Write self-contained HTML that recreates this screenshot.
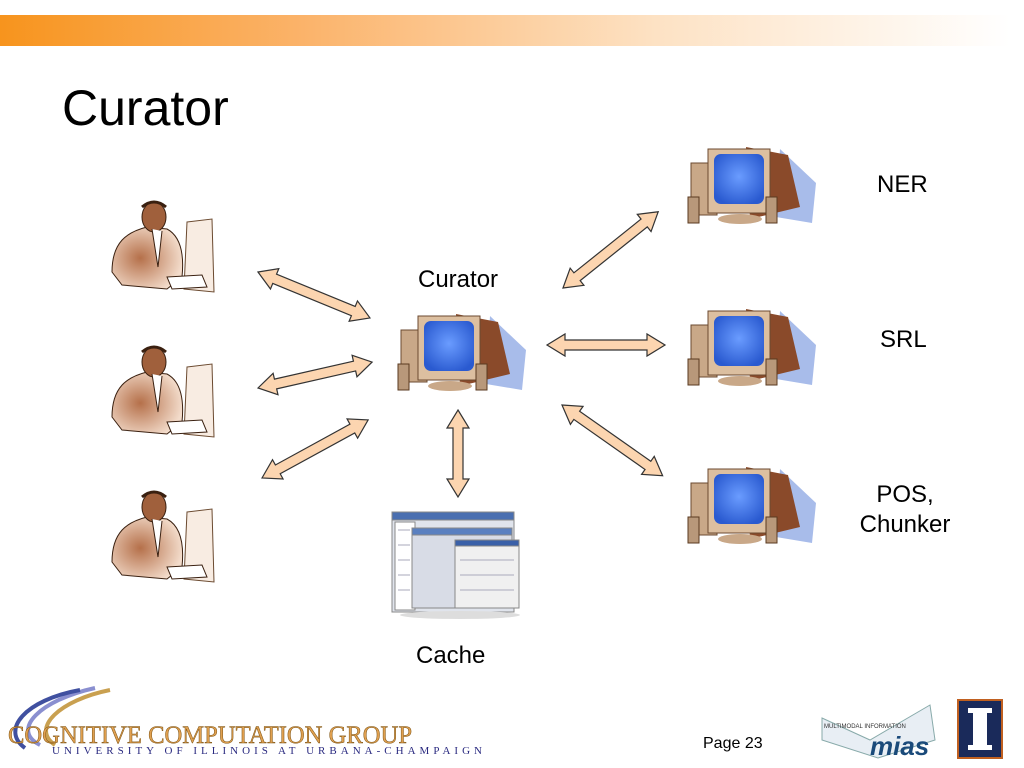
<!DOCTYPE html>
<html><head><meta charset="utf-8"><style>
body{margin:0;background:#fff;}
#p{position:relative;width:1024px;height:768px;overflow:hidden;font-family:"Liberation Sans",Arial,sans-serif;}
.t{position:absolute;color:#000;}
</style></head><body><div id="p">
<div style="position:absolute;left:0;top:15px;width:1010px;height:31px;background:linear-gradient(90deg,#f7941d 0%,#fbb36a 30%,#fde2c4 65%,#fff 100%);"></div>
<div class="t" style="left:62px;top:79px;font-size:50px;">Curator</div>
<div class="t" style="left:418px;top:266px;font-size:24px;">Curator</div>
<div class="t" style="left:877px;top:171px;font-size:24px;">NER</div>
<div class="t" style="left:880px;top:326px;font-size:24px;">SRL</div>
<div class="t" style="left:857px;top:480px;font-size:24px;text-align:center;line-height:30px;width:96px;">POS,<br>Chunker</div>
<div class="t" style="left:416px;top:642px;font-size:24px;">Cache</div>
<div class="t" style="left:703px;top:735px;font-size:16px;">Page 23</div>
<svg width="1024" height="768" style="position:absolute;left:0;top:0">
<defs>
<radialGradient id="scr" cx="0.5" cy="0.45" r="0.6"><stop offset="0" stop-color="#6a9cff"/><stop offset="1" stop-color="#2a5ad0"/></radialGradient>
<radialGradient id="skin" cx="0.4" cy="0.5" r="0.6"><stop offset="0" stop-color="#b5704a"/><stop offset="1" stop-color="#f3dccb"/></radialGradient>
<g id="pc">
<polygon points="92,4 128,38 124,78 88,72" fill="#a8bcea"/>
<polygon points="58,2 100,10 112,62 62,74" fill="#8a4a2a"/>
<rect x="3" y="18" width="26" height="52" fill="#c9a888" stroke="#6b4a30"/>
<rect x="20" y="4" width="62" height="64" fill="#dcbfa0" stroke="#6b4a30"/>
<rect x="26" y="9" width="50" height="50" rx="7" fill="url(#scr)"/>
<ellipse cx="52" cy="74" rx="22" ry="5" fill="#c9a888"/>
<rect x="0" y="52" width="11" height="26" fill="#b8987a" stroke="#5a3a20"/>
<rect x="78" y="52" width="11" height="26" fill="#b8987a" stroke="#5a3a20"/>
</g>
<g id="man">
<path d="M75,25 L100,22 L102,95 L72,92 Z" fill="#f8ece2" stroke="#6b4a30"/>
<path d="M0,75 C0,45 15,35 35,30 L55,32 C70,40 72,60 70,80 L55,92 L10,88 Z" fill="url(#skin)" stroke="#3a2010"/>
<ellipse cx="42" cy="20" rx="12" ry="15" fill="#a0603c" stroke="#3a2010"/>
<path d="M30,10 Q42,0 54,10" stroke="#3a2010" stroke-width="3" fill="none"/>
<path d="M40,32 L46,70 L50,34" fill="#fff" stroke="#3a2010"/>
<path d="M55,80 L90,78 L95,90 L60,92 Z" fill="#fff" stroke="#3a2010"/>
</g>
</defs>
<use href="#man" x="112" y="197"/>
<use href="#man" x="112" y="342"/>
<use href="#man" x="112" y="487"/>
<use href="#pc" x="398" y="312"/>
<use href="#pc" x="688" y="145"/>
<use href="#pc" x="688" y="307"/>
<use href="#pc" x="688" y="465"/>
<g fill="#fcd5b0" stroke="#333" stroke-width="1.2">
<polygon transform="translate(258,272) rotate(22.3)" points="0,0 18,-11 18,-5 103,-5 103,-11 121,0 103,11 103,5 18,5 18,11"/>
<polygon transform="translate(258,388) rotate(-12.8)" points="0,0 18,-11 18,-5 99,-5 99,-11 117,0 99,11 99,5 18,5 18,11"/>
<polygon transform="translate(262,478) rotate(-28.7)" points="0,0 18,-11 18,-5 103,-5 103,-11 121,0 103,11 103,5 18,5 18,11"/>
<polygon transform="translate(563,288) rotate(-38.7)" points="0,0 18,-11 18,-5 104,-5 104,-11 122,0 104,11 104,5 18,5 18,11"/>
<polygon transform="translate(547,345)" points="0,0 18,-11 18,-5 100,-5 100,-11 118,0 100,11 100,5 18,5 18,11"/>
<polygon transform="translate(562,405) rotate(35.1)" points="0,0 18,-11 18,-5 105,-5 105,-11 123,0 105,11 105,5 18,5 18,11"/>
<polygon transform="translate(458,410) rotate(90)" points="0,0 18,-11 18,-5 69,-5 69,-11 87,0 69,11 69,5 18,5 18,11"/>
</g>
<g stroke="#888">
<rect x="392" y="512" width="122" height="100" fill="#e0e4ec"/>
<rect x="392" y="512" width="122" height="8" fill="#4a6fb0"/>
<rect x="395" y="522" width="20" height="88" fill="#fff"/>
<rect x="412" y="528" width="100" height="80" fill="#d8dce6"/>
<rect x="412" y="528" width="100" height="7" fill="#5a80c0"/>
<rect x="455" y="540" width="64" height="68" fill="#f0f0f0"/>
<rect x="455" y="540" width="64" height="6" fill="#3a60a8"/>
</g>
<g stroke="#aab" stroke-width="1">
<line x1="398" y1="530" x2="410" y2="530"/><line x1="398" y1="545" x2="410" y2="545"/><line x1="398" y1="560" x2="410" y2="560"/><line x1="398" y1="575" x2="410" y2="575"/><line x1="398" y1="590" x2="410" y2="590"/>
<line x1="460" y1="560" x2="514" y2="560"/><line x1="460" y1="575" x2="514" y2="575"/><line x1="460" y1="590" x2="514" y2="590"/>
</g>
<ellipse cx="460" cy="615" rx="60" ry="4" fill="#ddd"/>
<g fill="none" stroke-width="4">
<path d="M40,745 C10,730 40,700 95,688" stroke="#8a8fd0"/>
<path d="M55,745 C30,728 60,700 110,690" stroke="#c9a050"/>
<path d="M25,748 C0,730 25,700 80,690" stroke="#4050a0"/>
</g>
<text x="8" y="743" font-family="Liberation Serif,serif" font-size="25" textLength="404" lengthAdjust="spacingAndGlyphs" fill="#e0a050" stroke="#7a5010" stroke-width="0.5">COGNITIVE COMPUTATION GROUP</text>
<text x="52" y="754" font-family="Liberation Serif,serif" font-size="11" textLength="430" lengthAdjust="spacing" fill="#2a2a80">UNIVERSITY OF ILLINOIS AT URBANA-CHAMPAIGN</text>
<polygon points="822,718 870,740 930,705 935,740 878,758 822,740" fill="#e8eef4" stroke="#8aa"/>
<text x="870" y="755" font-family="Liberation Sans,sans-serif" font-size="26" font-style="italic" font-weight="bold" fill="#1a4a7a">mias</text>
<text x="824" y="728" font-family="Liberation Sans,sans-serif" font-size="6" fill="#333">MULTIMODAL INFORMATION</text>
<rect x="958" y="700" width="44" height="58" fill="#1a2a5a" stroke="#c06020" stroke-width="2"/>
<rect x="973" y="708" width="14" height="42" fill="#fff"/>
<rect x="968" y="708" width="24" height="5" fill="#fff"/>
<rect x="968" y="745" width="24" height="5" fill="#fff"/>
</svg>
</div></body></html>
